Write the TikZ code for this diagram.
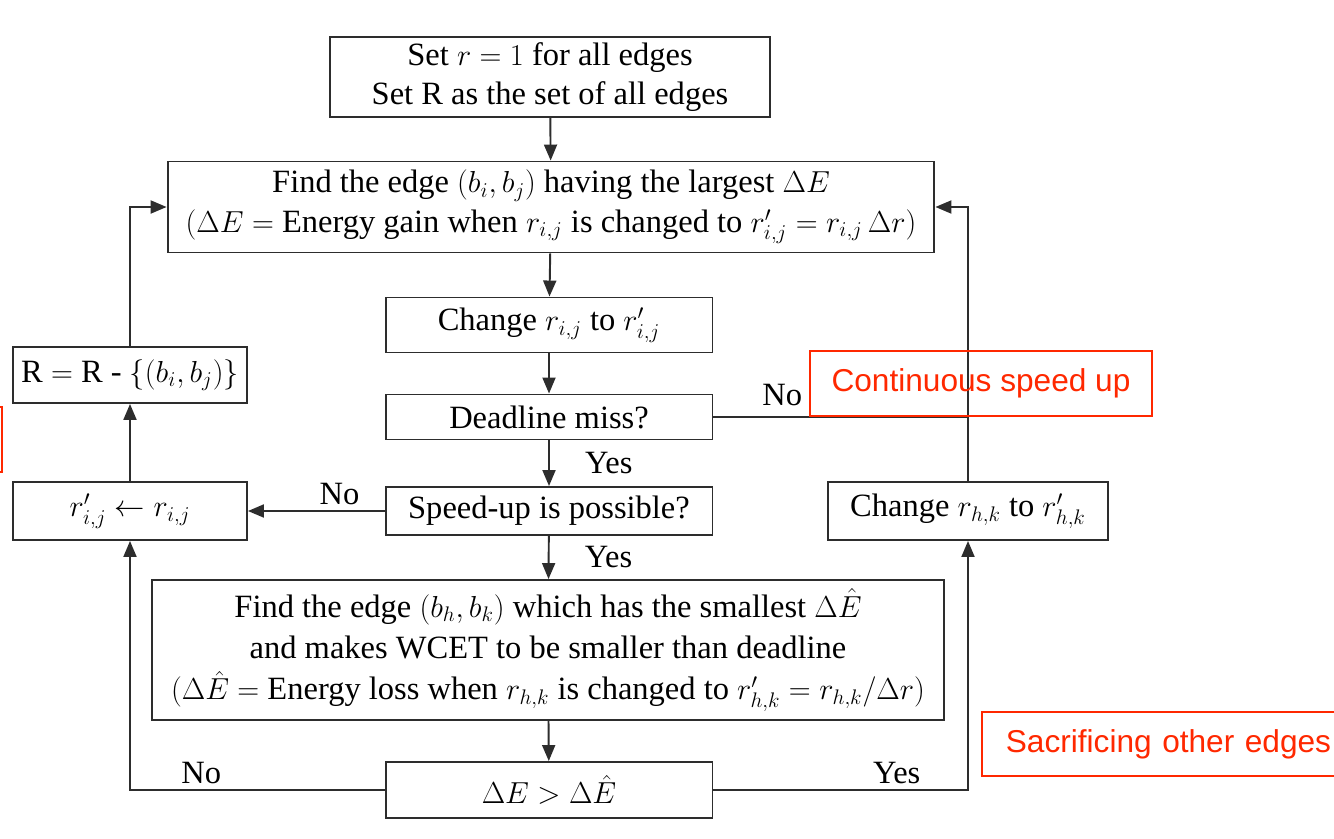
\documentclass[tikz,border=0pt]{standalone}
\usepackage{fontspec}
\setmainfont{Liberation Serif}
\newfontfamily\notefont{Liberation Sans}
\usetikzlibrary{arrows.meta}

\definecolor{linegray}{RGB}{45,45,45}
\definecolor{notered}{RGB}{255,40,0}

\tikzset{
  box/.style={draw=linegray, line width=1.1pt, align=center, inner sep=2pt,
              font=\fontsize{18.5}{22.5}\selectfont},
  flow/.style={draw=linegray, line width=1.1pt, -{Triangle[length=0.32cm,width=0.26cm]}},
  link/.style={draw=linegray, line width=1.1pt},
  lbl/.style={font=\fontsize{18.5}{22.5}\selectfont, inner sep=3pt},
  note/.style={draw=notered, line width=1pt, text=notered,
               font=\notefont\fontsize{18}{21}\selectfont},
}

\begin{document}
\begin{tikzpicture}[x=0.02cm, y=-0.02cm]

                  \useasboundingbox (0,0) rectangle (1334,838);

                  % main column
                  \node[box, minimum width=8.8cm, minimum height=1.6cm] (init) at (550,77)
                       {Set $r = 1$ for all edges\\ Set R as the set of all edges};
                  \node[box, minimum width=15.34cm, minimum height=1.82cm] (find) at (551,207)
                       {Find the edge $(b_i,b_j)$ having the largest $\Delta E$\\
                        $(\Delta E =$ Energy gain when $r_{i,j}$ is changed to $r'_{i,j} = r_{i,j}\,\Delta r)$};
                  \node[box, minimum width=6.54cm, minimum height=1.1cm] (change) at (549,325)
                       {Change $r_{i,j}$ to $r'_{i,j}$};
                  \node[box, minimum width=6.54cm, minimum height=0.9cm] (miss) at (549,417)
                       {Deadline miss?};
                  \node[box, minimum width=6.54cm, minimum height=0.96cm] (speed) at (549,511)
                       {Speed-up is possible?};
                  \node[box, minimum width=15.86cm, minimum height=2.8cm] (search) at (548,650)
                       {Find the edge $(b_h,b_k)$ which has the smallest $\Delta\hat{E}$\\[1pt]
                        and makes WCET to be smaller than deadline\\[1pt]
                        $(\Delta\hat{E} =$ Energy loss when $r_{h,k}$ is changed to $r'_{h,k} = r_{h,k}/\Delta r)$};
                  \node[box, minimum width=6.54cm, minimum height=1.12cm] (cmp) at (549,790)
                       {$\Delta E > \Delta\hat{E}$};

                  % side columns
                  \node[box, minimum width=4.68cm, minimum height=1.12cm] (remove) at (130,375)
                       {R $=$ R - $\{(b_i,b_j)\}$};
                  \node[box, minimum width=4.68cm, minimum height=1.16cm] (keep) at (130,511)
                       {$r'_{i,j} \leftarrow r_{i,j}$};
                  \node[box, minimum width=5.6cm, minimum height=1.16cm] (fix) at (968,511)
                       {Change $r_{h,k}$ to $r'_{h,k}$};

                  \coordinate (join) at (fix.north |- miss.east);

                  % connectors
                  \draw[flow] (init) -- (find);
                  \draw[flow] (find) -- (change);
                  \draw[flow] (change) -- (miss);
                  \draw[flow] (miss) -- node[lbl, right, xshift=0.6cm]{Yes} (speed);
                  \draw[flow] (speed) -- node[lbl, right, xshift=0.6cm]{Yes} (search);
                  \draw[flow] (search) -- (cmp);
                  \draw[flow] (speed) -- node[lbl, above, pos=0.33]{No} (keep);
                  \draw[flow] (keep) -- (remove);
                  \draw[flow] (remove.north) |- (find.west);
                  \draw[flow] (cmp.west) -| node[lbl, above, pos=0.36]{No} (keep.south);
                  \draw[flow] (cmp.east) -| node[lbl, above, pos=0.36]{Yes} (fix.south);
                  \draw[flow] (fix.north) |- (find.east);
                  \draw[link] (miss.east) -- node[lbl, above, pos=0.27, yshift=3pt]{No} (join);

                  % red notes
                  \node[note, minimum width=6.84cm, minimum height=1.3cm] (contnote) at (981,383.5)
                       {Continuous speed up};
                  \node[note, anchor=west, minimum height=1.28cm, inner xsep=0.48cm,
                        text width=8cm, align=left] (sacnote) at (981,744)
                       {Sacrificing other edges};
                  \draw[draw=notered, line width=1pt] (-100,407) rectangle (2,472);

              \end{tikzpicture}
\end{document}
